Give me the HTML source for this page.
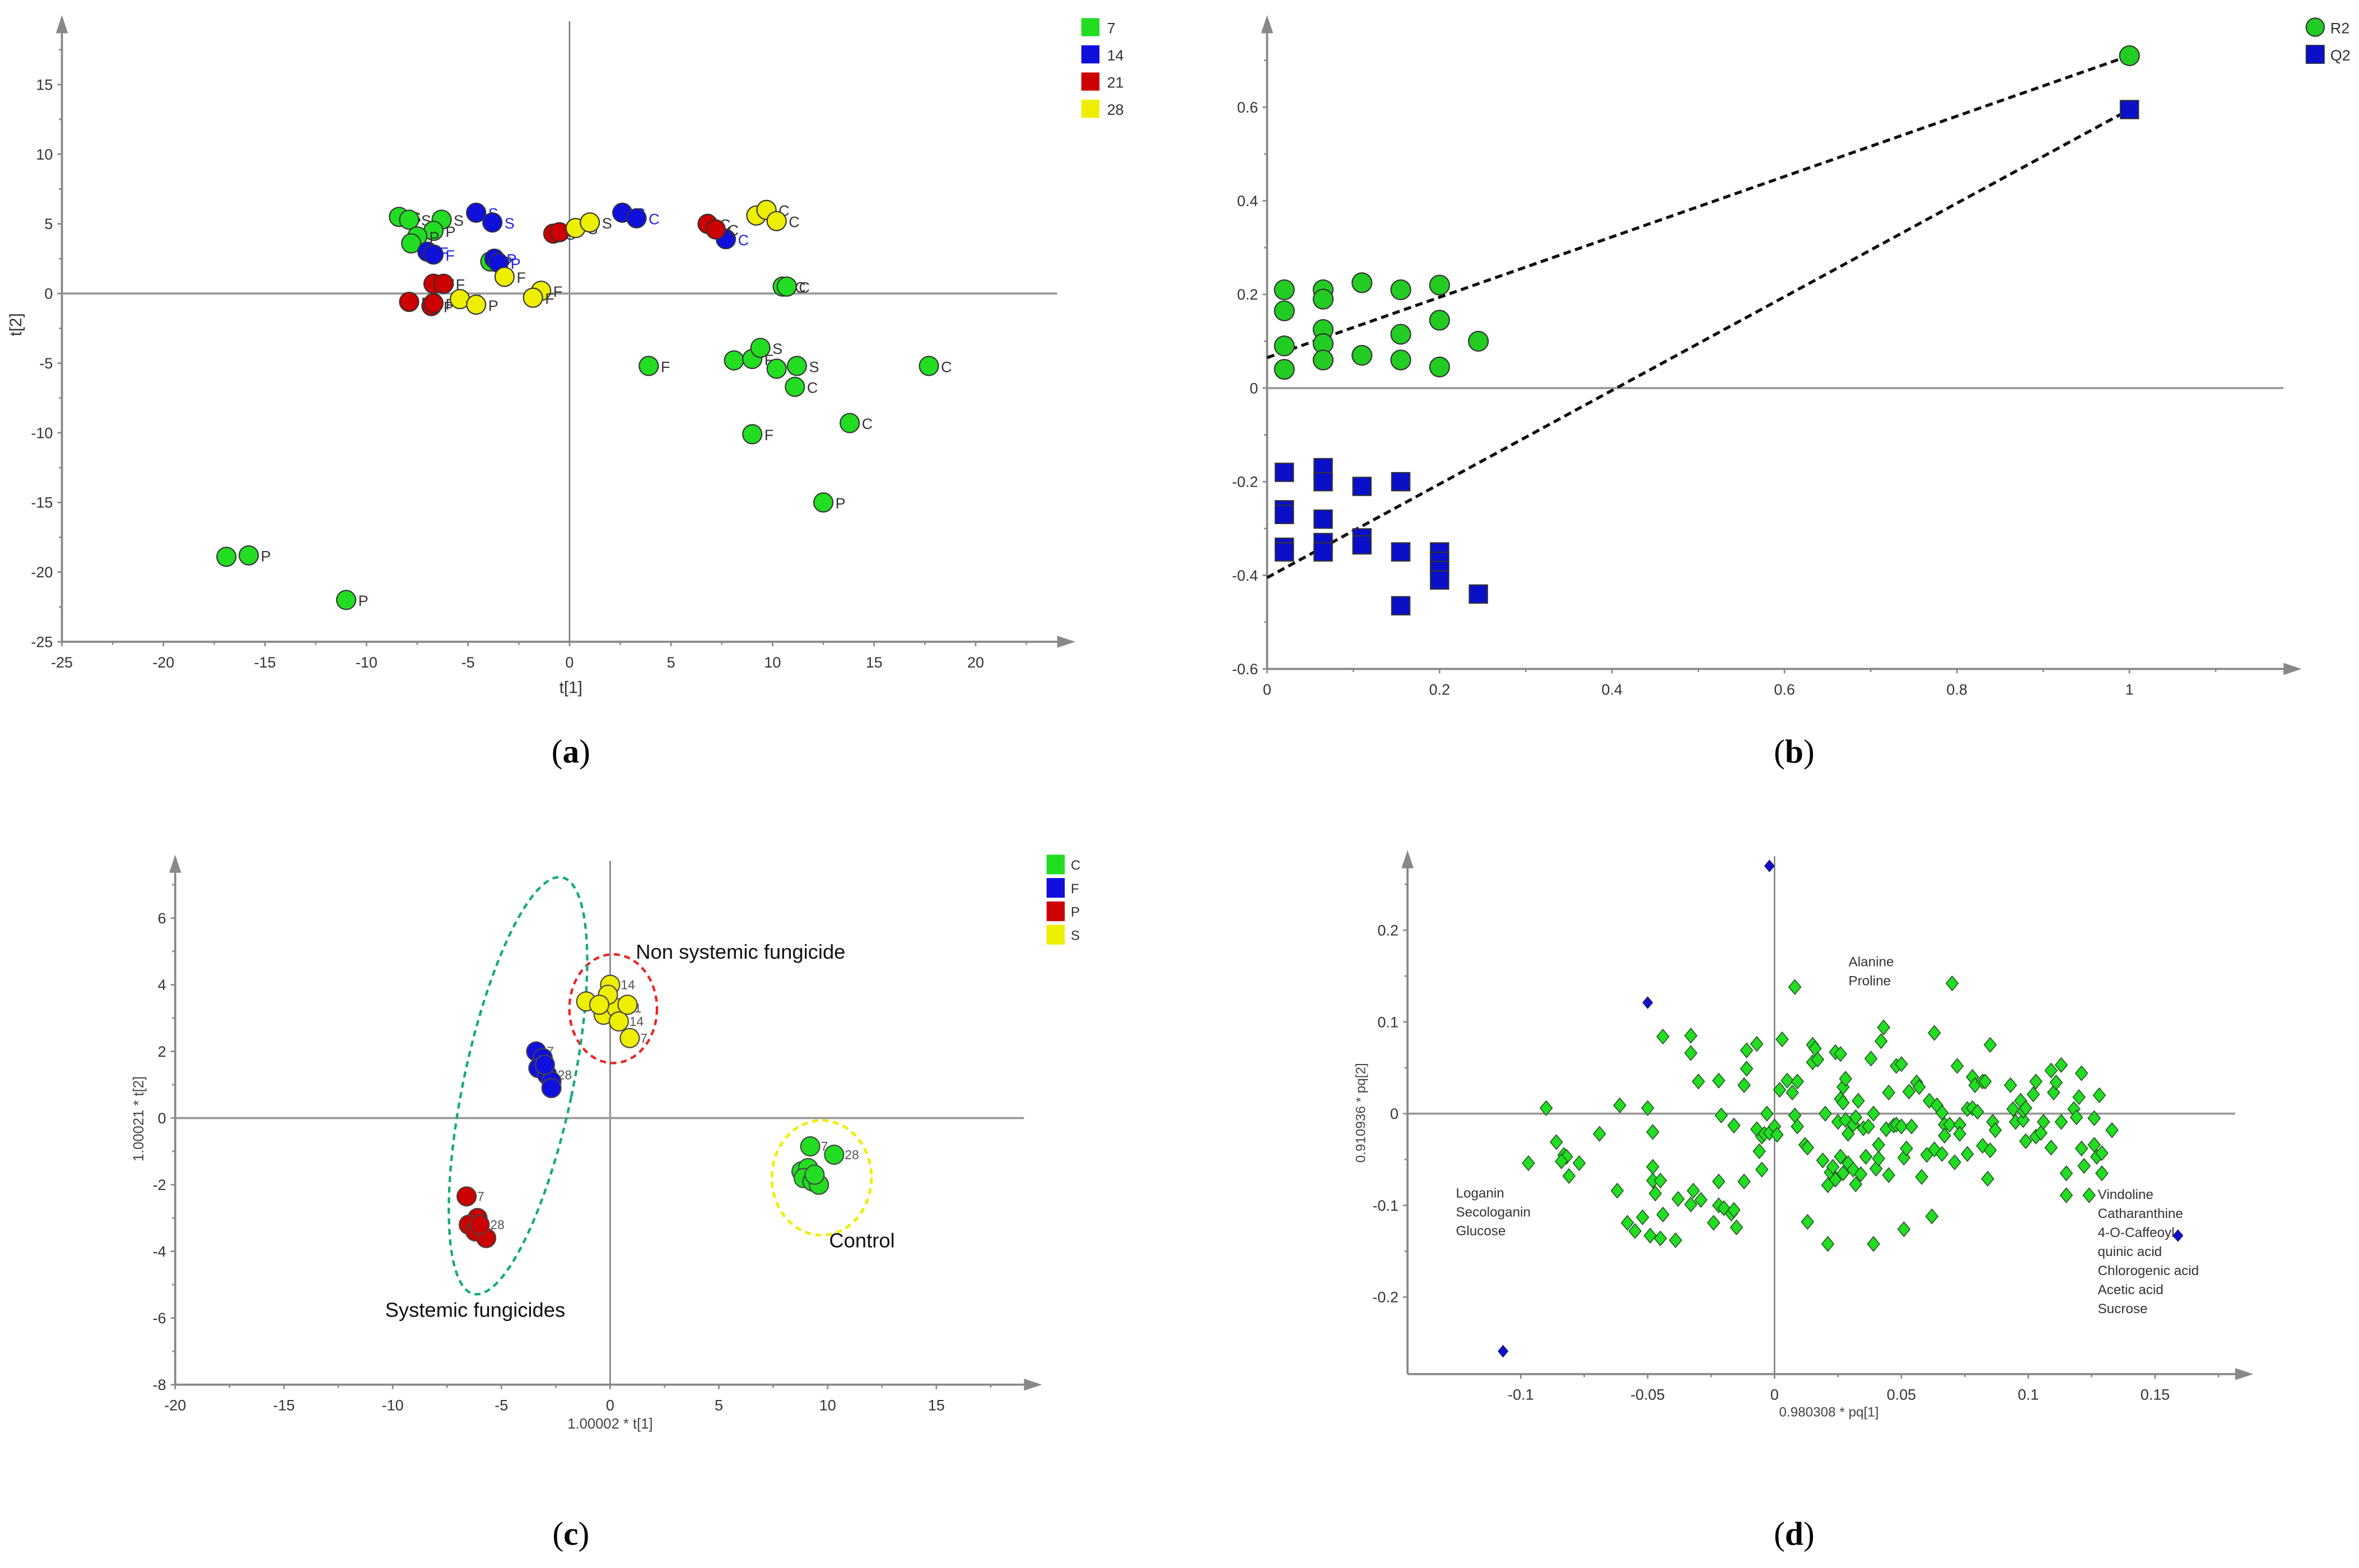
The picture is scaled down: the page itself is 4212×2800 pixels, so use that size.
<!DOCTYPE html>
<html><head><meta charset="utf-8"><style>
html,body{margin:0;padding:0;background:#fff;}
svg{display:block;font-family:"Liberation Sans",sans-serif;}
</style></head><body>
<svg id="root" xmlns="http://www.w3.org/2000/svg" width="4212" height="2800" viewBox="0 0 1562 1038.4" preserveAspectRatio="none">
<rect width="1562" height="1038.4" fill="#fff"/>
<g id="pa"></g>
<g id="pb"></g>
<g id="pc"></g>
<g id="pd"></g>
<text x="378" y="505" font-family="Liberation Serif,serif" font-size="22" text-anchor="middle">(<tspan font-weight="bold">a</tspan>)</text>
<text x="1188" y="505" font-family="Liberation Serif,serif" font-size="22" text-anchor="middle">(<tspan font-weight="bold">b</tspan>)</text>
<text x="378" y="1023" font-family="Liberation Serif,serif" font-size="22" text-anchor="middle">(<tspan font-weight="bold">c</tspan>)</text>
<text x="1188" y="1023" font-family="Liberation Serif,serif" font-size="22" text-anchor="middle">(<tspan font-weight="bold">d</tspan>)</text>
</svg>
<script>
// ---------- Panel A data ----------
const aGreen = [[-8.4,5.5,"S"],[-7.9,5.3,"S"],[-6.3,5.3,"S"],[-6.7,4.5,"P"],[-7.5,4.1,"P"],[-7.8,3.6,""],[-3.9,2.3,"P"],[10.5,0.5,"C"],[10.7,0.5,"C"],[3.9,-5.2,"F"],[8.1,-4.8,"P"],[9.0,-4.7,"F"],[9.4,-3.9,"S"],[10.2,-5.4,"S"],[11.2,-5.2,"S"],[11.1,-6.7,"C"],[17.7,-5.2,"C"],[13.8,-9.3,"C"],[9.0,-10.1,"F"],[12.5,-15,"P"],[-16.9,-18.9,""],[-15.8,-18.8,"P"],[-11,-22,"P"]];
const aBlue = [[-4.6,5.8,"S"],[-3.8,5.1,"S"],[2.6,5.8,"C"],[3.3,5.4,"C"],[7.7,3.9,"C"],[-7,3,"F"],[-6.7,2.8,"F"],[-3.7,2.5,"P"],[-3.5,2.2,"P"]];
const aRed = [[-0.8,4.3,"S"],[-0.5,4.4,""],[6.8,5,"C"],[7.2,4.6,"C"],[-6.7,0.7,"F"],[-6.2,0.7,"F"],[-7.9,-0.6,"P"],[-6.8,-0.9,"P"],[-6.7,-0.7,"P"]];
const aYellow = [[0.3,4.7,"S"],[1,5.1,"S"],[9.2,5.6,"C"],[9.7,6,"C"],[10.2,5.2,"C"],[-3.2,1.2,"F"],[-1.4,0.2,"F"],[-1.8,-0.3,"F"],[-5.4,-0.4,"F"],[-4.6,-0.8,"P"]];
const aXTicks = [-25,-20,-15,-10,-5,0,5,10,15,20];
const aYTicks = [15,10,5,0,-5,-10,-15,-20,-25];
const aLegend = ["7","14","21","28"];
// ---------- Panel B data ----------
const bR2 = [[0.02,0.21],[0.02,0.165],[0.02,0.09],[0.02,0.04],[0.065,0.21],[0.065,0.19],[0.065,0.125],[0.065,0.095],[0.065,0.06],[0.11,0.225],[0.11,0.07],[0.155,0.21],[0.155,0.115],[0.155,0.06],[0.2,0.22],[0.2,0.145],[0.2,0.045],[0.245,0.1],[1,0.71]];
const bQ2 = [[0.02,-0.18],[0.02,-0.26],[0.02,-0.27],[0.02,-0.34],[0.02,-0.35],[0.065,-0.17],[0.065,-0.2],[0.065,-0.28],[0.065,-0.33],[0.065,-0.35],[0.11,-0.21],[0.11,-0.32],[0.11,-0.335],[0.155,-0.2],[0.155,-0.35],[0.155,-0.465],[0.2,-0.35],[0.2,-0.37],[0.2,-0.39],[0.2,-0.41],[0.245,-0.44],[1,0.595]];
const bR2Line = [[0,0.065],[1,0.71]];
const bQ2Line = [[0,-0.405],[1,0.595]];
const bXTicks = [0,0.2,0.4,0.6,0.8,1];
const bYTicks = [0.6,0.4,0.2,0,-0.2,-0.4,-0.6];
// ---------- Panel C data ----------
const cS = [[0,4,"14"],[-1.1,3.5,""],[-0.3,3.1,""],[0.3,3.3,"21"],[0.8,3.4,""],[0.4,2.9,"14"],[0.9,2.4,"7"],[-0.1,3.7,""],[-0.5,3.4,""]];
const cF = [[-3.4,2,"7"],[-3.1,1.8,""],[-3.3,1.5,""],[-2.9,1.3,"28"],[-2.7,1.1,""],[-2.7,0.9,""],[-3,1.6,""]];
const cP = [[-6.6,-2.35,"7"],[-6.1,-3,""],[-6.5,-3.2,""],[-6.2,-3.4,""],[-5.7,-3.6,""],[-6,-3.2,"28"]];
const cC = [[9.2,-0.85,"7"],[10.3,-1.1,"28"],[8.8,-1.6,""],[9.1,-1.5,""],[8.9,-1.8,""],[9.3,-1.9,""],[9.6,-2,""],[9.4,-1.7,""]];
const cXTicks = [-20,-15,-10,-5,0,5,10,15];
const cYTicks = [6,4,2,0,-2,-4,-6,-8];
const cLegend = ["C","F","P","S"];
// ---------- Panel D data ----------
const dGreen = [[-0.090,0.006],[-0.097,-0.054],[-0.086,-0.031],[-0.083,-0.045],[-0.082,-0.047],[-0.084,-0.052],[-0.081,-0.068],[-0.077,-0.054],[-0.069,-0.022],[-0.061,0.009],[-0.062,-0.084],[-0.058,-0.119],[-0.055,-0.128],[-0.052,-0.113],[-0.050,0.006],[-0.048,-0.058],[-0.048,-0.073],[-0.048,-0.020],[-0.047,-0.087],[-0.045,-0.073],[-0.044,-0.110],[-0.049,-0.133],[-0.045,-0.136],[-0.044,0.084],[-0.038,-0.093],[-0.039,-0.138],[-0.033,0.085],[-0.033,0.066],[-0.032,-0.084],[-0.033,-0.099],[-0.029,-0.094],[-0.030,0.035],[-0.024,-0.119],[-0.022,0.036],[-0.022,-0.074],[-0.021,-0.002],[-0.022,-0.100],[-0.020,-0.103],[-0.017,-0.109],[-0.016,-0.105],[-0.015,-0.124],[-0.016,-0.013],[-0.012,-0.074],[-0.012,0.031],[-0.011,0.069],[-0.011,0.049],[-0.007,0.076],[-0.007,-0.017],[-0.006,-0.041],[-0.005,-0.025],[-0.005,-0.061],[-0.004,-0.022],[-0.003,0.000],[-0.002,-0.021],[0.000,-0.014],[0.001,-0.023],[0.003,0.081],[0.002,0.026],[0.005,0.036],[0.007,0.023],[0.008,0.138],[0.008,-0.002],[0.009,-0.014],[0.009,0.035],[0.012,-0.034],[0.013,-0.037],[0.013,-0.118],[0.015,0.056],[0.015,0.075],[0.016,0.071],[0.017,0.059],[0.019,-0.051],[0.020,0.000],[0.021,-0.142],[0.021,-0.078],[0.022,-0.064],[0.023,-0.058],[0.024,-0.072],[0.024,0.067],[0.025,-0.009],[0.026,0.065],[0.026,0.016],[0.026,-0.047],[0.027,-0.065],[0.027,0.012],[0.027,0.029],[0.028,0.038],[0.028,-0.007],[0.029,-0.022],[0.029,-0.054],[0.031,-0.061],[0.031,-0.012],[0.032,-0.077],[0.032,-0.004],[0.033,0.014],[0.034,-0.066],[0.035,-0.016],[0.036,-0.047],[0.037,-0.014],[0.038,0.060],[0.039,-0.142],[0.039,0.000],[0.040,-0.060],[0.041,-0.049],[0.041,-0.034],[0.042,0.079],[0.043,0.094],[0.044,-0.017],[0.045,-0.067],[0.045,0.023],[0.047,-0.013],[0.048,0.052],[0.048,-0.012],[0.050,-0.014],[0.050,0.054],[0.051,-0.126],[0.051,-0.048],[0.052,-0.038],[0.053,0.024],[0.054,-0.014],[0.056,0.034],[0.057,0.029],[0.058,-0.069],[0.060,-0.045],[0.061,0.014],[0.062,-0.112],[0.063,0.088],[0.063,-0.039],[0.064,0.009],[0.066,0.001],[0.066,-0.044],[0.067,-0.012],[0.067,-0.024],[0.069,-0.012],[0.070,0.142],[0.071,-0.053],[0.072,0.052],[0.073,-0.012],[0.073,-0.022],[0.076,0.005],[0.076,-0.044],[0.078,0.040],[0.078,0.006],[0.079,0.031],[0.080,0.002],[0.082,0.035],[0.083,0.035],[0.082,-0.035],[0.084,-0.071],[0.085,0.075],[0.085,-0.040],[0.086,-0.009],[0.087,-0.018],[0.093,0.031],[0.094,0.005],[0.095,-0.009],[0.097,0.014],[0.098,-0.007],[0.098,0.003],[0.099,0.006],[0.099,-0.030],[0.102,0.021],[0.103,-0.025],[0.103,0.035],[0.105,-0.021],[0.106,-0.009],[0.109,-0.037],[0.109,0.047],[0.110,0.023],[0.111,0.034],[0.113,0.053],[0.113,-0.009],[0.115,-0.065],[0.115,-0.089],[0.118,0.005],[0.119,-0.004],[0.120,0.018],[0.121,0.044],[0.121,-0.038],[0.122,-0.057],[0.124,-0.089],[0.126,-0.005],[0.126,-0.034],[0.127,-0.047],[0.128,0.020],[0.129,-0.065],[0.129,-0.043],[0.133,-0.018]];
const dBlue = [[-0.002,0.270],[-0.050,0.121],[-0.107,-0.259],[0.159,-0.133]];
const dXTicks = [-0.1,-0.05,0,0.05,0.1,0.15];
const dYTicks = [0.2,0.1,0,-0.1,-0.2];

const NS="http://www.w3.org/2000/svg";
function mk(parent,tag,attrs,text){const e=document.createElementNS(NS,tag);for(const k in attrs)e.setAttribute(k,attrs[k]);if(text!==undefined)e.textContent=text;parent.appendChild(e);return e;}
function lin(d0,d1,p0,p1){return v=>p0+(v-d0)*(p1-p0)/(d1-d0);}

function axes(g,o){
  const ax=mk(g,'g',{});
  
  
  mk(ax,'line',{x1:o.x0,y1:o.yBot,x2:o.xEnd,y2:o.yBot,stroke:'#888','stroke-width':1.4});
  mk(ax,'line',{x1:o.x0,y1:o.yBot,x2:o.x0,y2:o.yTop,stroke:'#888','stroke-width':1.4});
  mk(ax,'polygon',{points:`${o.xEnd+12},${o.yBot} ${o.xEnd},${o.yBot-4} ${o.xEnd},${o.yBot+4}`,fill:'#888'});
  mk(ax,'polygon',{points:`${o.x0},${o.yTop-12} ${o.x0-4},${o.yTop} ${o.x0+4},${o.yTop}`,fill:'#888'});
  if(o.zeroX!==false){const zx=o.sx(0);mk(ax,'line',{x1:zx,y1:o.yTop-8,x2:zx,y2:o.yBot,stroke:'#777','stroke-width':0.9});}
  const zy=o.sy(0);mk(ax,'line',{x1:o.x0,y1:zy,x2:o.xEnd,y2:zy,stroke:'#999','stroke-width':1.4});
  o.xTicks.forEach((t,i)=>{const x=o.sx(t);
    mk(ax,'line',{x1:x,y1:o.yBot,x2:x,y2:o.yBot+3,stroke:'#888'});
    const mx=o.sx(t+(o.xTicks[1]-o.xTicks[0])/2);if(mx<o.xEnd)mk(ax,'line',{x1:mx,y1:o.yBot,x2:mx,y2:o.yBot+2,stroke:'#888'});
    const tl=mk(ax,'text',{x:x,y:o.yBot+17,'font-size':10,'text-anchor':'middle',fill:'#333'},o.fmt(t));
    
    
  });
  o.yTicks.forEach(t=>{const y=o.sy(t);
    mk(ax,'line',{x1:o.x0-3,y1:y,x2:o.x0,y2:y,stroke:'#888'});
    const my=o.sy(t+(o.yTicks[0]-o.yTicks[1])/2);if(my>o.yTop)mk(ax,'line',{x1:o.x0-2,y1:my,x2:o.x0,y2:my,stroke:'#888'});
    const tl=mk(ax,'text',{x:o.x0-6,y:y+3.5,'font-size':10,'text-anchor':'end',fill:'#333'},o.fmt(t));
    
    
  });
}

// ---------- Panel A ----------
(function(){
  const g=document.getElementById('pa');
  const sx=lin(-25,20,41,646), sy=lin(15,-25,56,425);
  axes(g,{x0:41,xEnd:700,yTop:22,yBot:425,sx,sy,xTicks:aXTicks,yTicks:aYTicks,fmt:v=>String(v)});
  const t1=mk(g,'text',{x:378,y:459,'font-size':11,'text-anchor':'middle',fill:'#333'},'t[1]');
  
  
  const t2=mk(g,'text',{x:0,y:0,'font-size':11,'text-anchor':'middle',fill:'#333',transform:'translate(14,215) rotate(-90)'},'t[2]');
  
  
  const groups=[[aGreen,'#22dd22','#333'],[aBlue,'#1010dd','#2222ee'],[aRed,'#cc0000','#333'],[aYellow,'#eeee00','#333']];
  groups.forEach(([arr,col,lc],gi)=>{
    arr.forEach(p=>{
      const c=mk(g,'circle',{cx:sx(p[0]),cy:sy(p[1]),r:6.3,fill:col,stroke:'#333','stroke-width':0.8});
      
      
      if(p[2]){const l=mk(g,'text',{x:sx(p[0])+8,y:sy(p[1])+4,'font-size':10,fill:lc},p[2]);
        
        }
    });
    const r=mk(g,'rect',{x:716,y:12+gi*18,width:12,height:12,fill:col});
    
    
    const lt=mk(g,'text',{x:733,y:22+gi*18,'font-size':10,fill:'#333'},aLegend[gi]);
    
    
  });
})();

// ---------- Panel B ----------
(function(){
  const g=document.getElementById('pb');
  const sx=lin(0,1,839,1410), sy=lin(0.6,-0.6,71,443);
  axes(g,{x0:839,xEnd:1512,yTop:22,yBot:443,sx,sy,xTicks:bXTicks,yTicks:bYTicks,zeroX:false,fmt:v=>String(Math.round(v*10)/10)});
  [[bR2Line,'r2-regression-line'],[bQ2Line,'q2-regression-line']].forEach(([ln,nm])=>{
    const l=mk(g,'line',{x1:sx(ln[0][0]),y1:sy(ln[0][1]),x2:sx(ln[1][0]),y2:sy(ln[1][1]),stroke:'#111','stroke-width':2,'stroke-dasharray':'5,3'});
    
    
  });
  bR2.forEach(p=>{const c=mk(g,'circle',{cx:sx(p[0]),cy:sy(p[1]),r:6.5,fill:'#22cc22',stroke:'#333','stroke-width':0.8});
    
    });
  bQ2.forEach(p=>{const c=mk(g,'rect',{x:sx(p[0])-6,y:sy(p[1])-6,width:12,height:12,fill:'#0a10c8',stroke:'#333','stroke-width':0.8});
    
    });
  const lc=mk(g,'circle',{cx:1533,cy:18,r:6,fill:'#22cc22',stroke:'#333','stroke-width':0.8});
  
  
  const lr=mk(g,'rect',{x:1527,y:30,width:12,height:12,fill:'#0a10c8',stroke:'#333','stroke-width':0.6});
  
  
  const t1=mk(g,'text',{x:1543,y:22,'font-size':10,fill:'#333'},'R2');
  
  
  const t2=mk(g,'text',{x:1543,y:40,'font-size':10,fill:'#333'},'Q2');
  
  
})();

// ---------- Panel C ----------
(function(){
  const g=document.getElementById('pc');
  const sx=lin(-20,15,116,620), sy=lin(6,-8,608,917);
  axes(g,{x0:116,xEnd:678,yTop:578,yBot:917,sx,sy,xTicks:cXTicks,yTicks:cYTicks,fmt:v=>String(v)});
  const e1=mk(g,'ellipse',{cx:406,cy:668,rx:29,ry:36,fill:'none',stroke:'#ee2222','stroke-width':1.6,'stroke-dasharray':'4,3'});
  
  
  const e2=mk(g,'ellipse',{cx:343,cy:719,rx:36,ry:141,fill:'none',stroke:'#11aa77','stroke-width':1.6,'stroke-dasharray':'4,3',transform:'rotate(12 343 719)'});
  
  
  const e3=mk(g,'ellipse',{cx:544,cy:780,rx:33,ry:38,fill:'none',stroke:'#eeee00','stroke-width':1.8,'stroke-dasharray':'4,3'});
  
  
  const groups=[[cC,'#22dd22'],[cF,'#1010dd'],[cP,'#cc0000'],[cS,'#eeee00']];
  groups.forEach(([arr,col],gi)=>{
    arr.forEach(p=>{
      const c=mk(g,'circle',{cx:sx(p[0]),cy:sy(p[1]),r:6.3,fill:col,stroke:'#444','stroke-width':0.8});
      
      
      if(p[2]){const l=mk(g,'text',{x:sx(p[0])+7,y:sy(p[1])+3,'font-size':8.5,fill:'#555'},p[2]);
        
        }
    });
    const r=mk(g,'rect',{x:693,y:566+gi*15.5,width:12,height:13,fill:col});
    
    
    const lt=mk(g,'text',{x:709,y:576+gi*15.5,'font-size':9,fill:'#333'},cLegend[gi]);
    
    
  });
  [['Non systemic fungicide',421,635,'annotation-non-systemic'],['Control',549,826,'annotation-control'],['Systemic fungicides',255,872,'annotation-systemic']].forEach(a=>{
    const t=mk(g,'text',{x:a[1],y:a[2],'font-size':13.5,fill:'#111'},a[0]);
    
    
  });
  const xt=mk(g,'text',{x:404,y:946,'font-size':9.5,'text-anchor':'middle',fill:'#444'},'1.00002 * t[1]');
  
  
  const yt=mk(g,'text',{x:0,y:0,'font-size':9.5,'text-anchor':'middle',fill:'#444',transform:'translate(95,741) rotate(-90)'},'1.00021 * t[2]');
  
  
})();

// ---------- Panel D ----------
(function(){
  const g=document.getElementById('pd');
  const sx=lin(-0.1,0.15,1007,1427), sy=lin(0.2,-0.2,616,859);
  axes(g,{x0:932,xEnd:1480,yTop:575,yBot:910,sx,sy,xTicks:dXTicks,yTicks:dYTicks,fmt:v=>String(Math.round(v*100)/100)});
  dGreen.forEach(p=>{const x=sx(p[0]),y=sy(p[1]);
    const d=mk(g,'polygon',{points:`${x},${y-4.8} ${x+4},${y} ${x},${y+4.8} ${x-4},${y}`,fill:'#22dd22',stroke:'#225522','stroke-width':0.6});
    
    });
  dBlue.forEach(p=>{const x=sx(p[0]),y=sy(p[1]);
    const d=mk(g,'polygon',{points:`${x},${y-3.8} ${x+3.2},${y} ${x},${y+3.8} ${x-3.2},${y}`,fill:'#1010cc',stroke:'#111166','stroke-width':0.5});
    
    });
  const lab=(lines,x,y,nm)=>lines.forEach((s,i)=>{const t=mk(g,'text',{x:x,y:y+i*12.6,'font-size':9,fill:'#333'},s);
    
    });
  lab(['Alanine','Proline'],1224,640,'annotation-amino-acids');
  lab(['Loganin','Secologanin','Glucose'],964,793,'annotation-iridoids');
  lab(['Vindoline','Catharanthine','4-O-Caffeoyl','quinic acid','Chlorogenic acid','Acetic acid','Sucrose'],1389,794,'annotation-alkaloids-acids');
  const xt=mk(g,'text',{x:1211,y:938,'font-size':9,'text-anchor':'middle',fill:'#444'},'0.980308 * pq[1]');
  
  
  const yt=mk(g,'text',{x:0,y:0,'font-size':9,'text-anchor':'middle',fill:'#444',transform:'translate(904,737) rotate(-90)'},'0.910936 * pq[2]');
  
  
})();
</script>
</body></html>
